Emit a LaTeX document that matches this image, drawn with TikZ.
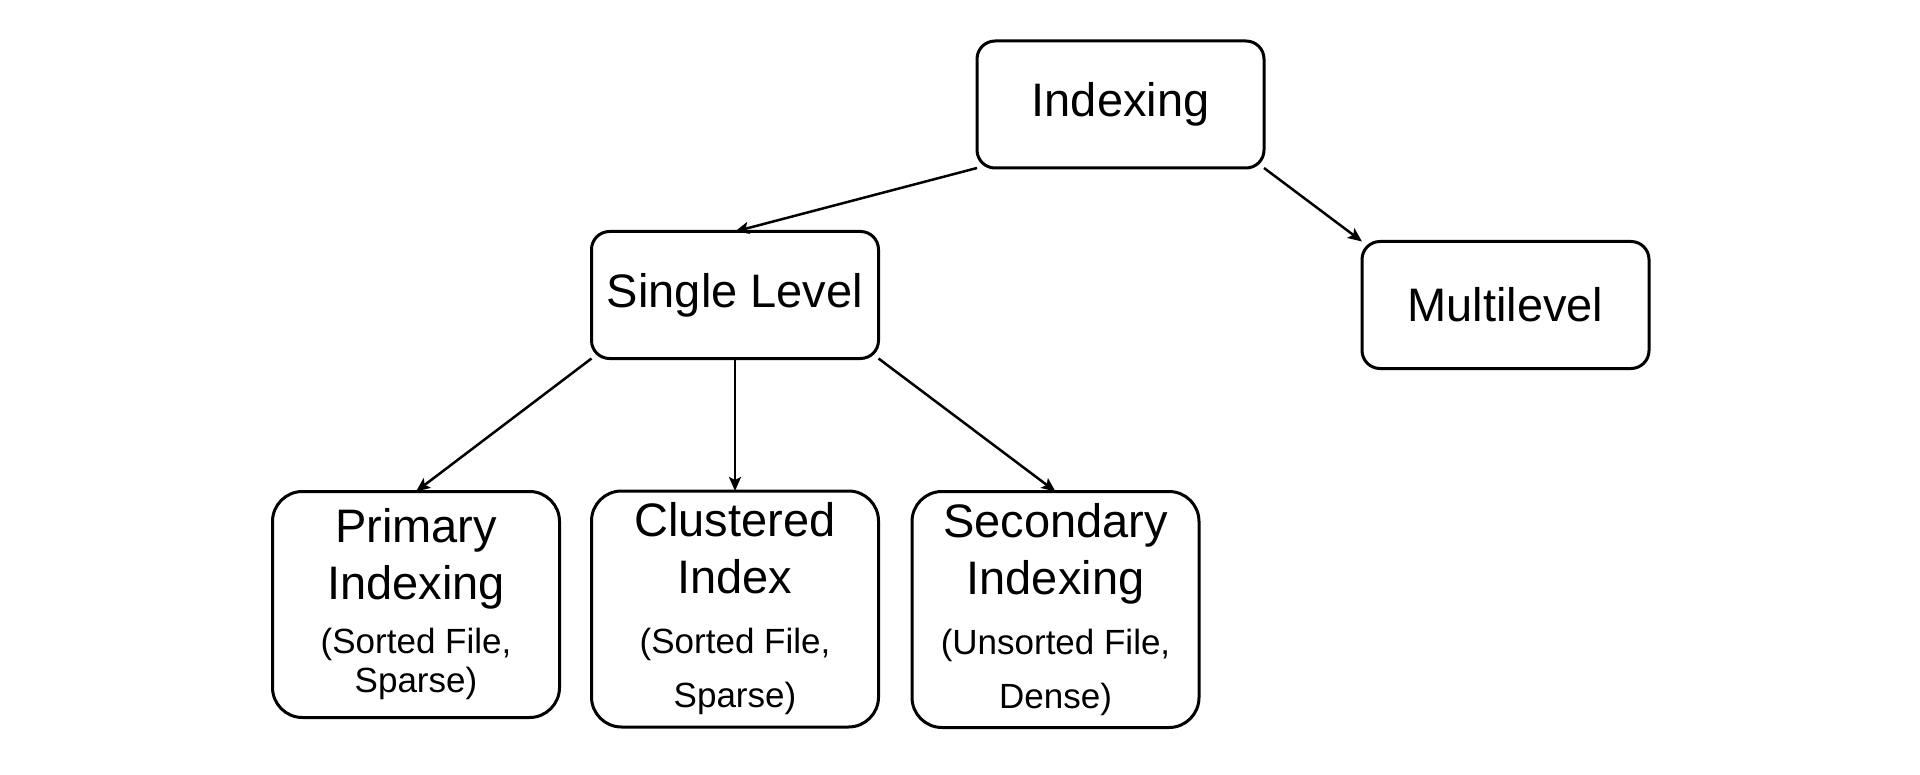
\documentclass[tikz,border=0pt]{standalone}
\usepackage{fontspec}
\setmainfont{Liberation Sans}
\usetikzlibrary{arrows.meta}
\newcommand\smalltxt[1]{{\fontsize{17.5pt}{21pt}\selectfont #1}}
\tikzset{
  box/.style={draw, line width=1.5pt, rounded corners=9pt, outer sep=0pt,
    minimum width=143.5pt, align=center, inner sep=0pt,
    font=\fontsize{23.5pt}{28.5pt}\selectfont},
  topbox/.style={box, minimum height=63.5pt},
  leafbox/.style={box, rounded corners=15pt, minimum height=118pt},
  conn/.style={line width=1.25pt, -{Stealth[length=7pt,width=6pt,inset=1.5pt]}}
}
\begin{document}
\begin{tikzpicture}[x=0.5pt,y=-0.5pt]
\useasboundingbox (0,0) rectangle (1920,775);
\node[topbox] (idx) at (1120.5,104.5) {Indexing};
\node[topbox] (sl)  at (735,295) {Single Level};
\node[topbox] (ml)  at (1505.5,305) {Multilevel};
\node[leafbox, minimum height=113pt] (pri) at (416,604.5)
  {Primary\\Indexing\\[-1.5pt]\smalltxt{(Sorted File,}\\[-9pt]\smalltxt{Sparse)}};
\node[leafbox] (clu) at (735,609)
  {Clustered\\Index\\[1.5pt]\smalltxt{(Sorted File,}\\[-1.5pt]\smalltxt{Sparse)}};
\node[leafbox] (sec) at (1055.5,609.5)
  {Secondary\\Indexing\\[1.5pt]\smalltxt{(Unsorted File,}\\[-1.5pt]\smalltxt{Dense)}};
\draw[conn] (idx.south west) -- (sl.north);
\draw[conn] (idx.south east) -- (ml.north west);
\draw[conn] (sl.south west) -- (pri.north);
\draw[conn] (sl.south) -- (clu.north);
\draw[conn] (sl.south east) -- (sec.north);
\end{tikzpicture}
\end{document}
